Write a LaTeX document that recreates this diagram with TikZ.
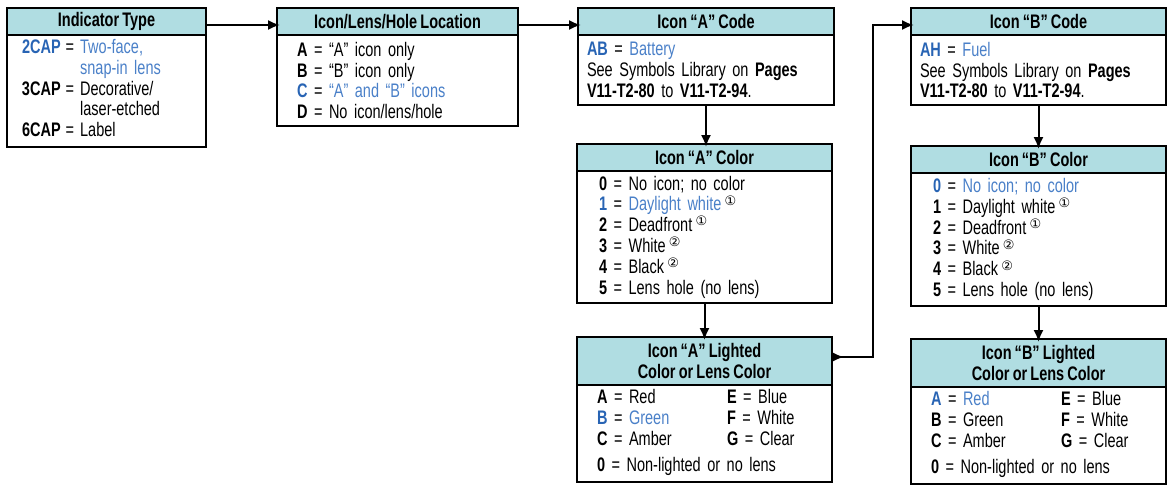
\documentclass[tikz,border=0pt]{standalone}
\usepackage{fontspec}
\setmainfont[FakeStretch=0.74]{Liberation Sans}
\newfontfamily\symfont{DejaVu Sans}
\usetikzlibrary{positioning,arrows.meta}

\definecolor{hdrfill}{RGB}{176,221,226}
\definecolor{keyblue}{RGB}{40,100,180}
\definecolor{txtblue}{RGB}{74,128,200}

\newcommand{\ky}[1]{\textbf{#1}}
\newcommand{\bk}[1]{\textcolor{keyblue}{\textbf{#1}}}
\newcommand{\bt}[1]{\textcolor{txtblue}{#1}}
\newcommand{\cnote}[1]{\,\raisebox{0.55ex}{\symfont\fontsize{6.5}{6.5}\selectfont #1}}
\newcommand{\txtfont}{\fontsize{9.8}{10.4}\selectfont\spaceskip=0.16em plus 0.04em}

\begin{document}
\begin{tikzpicture}[x=0.5pt, y=-0.5pt,
    every node/.style={font=\txtfont, outer sep=0pt},
    hdr/.style={draw, line width=0.75pt, fill=hdrfill, anchor=north west,
      align=center, inner sep=0pt, minimum height=13.5pt,
      font=\txtfont\bfseries},
    bodybox/.style={draw, line width=0.75pt, anchor=north west, align=left,
      inner ysep=0pt},
    link/.style={line width=1pt, shorten >=-1.5pt,
      -{Latex[length=6pt,width=5pt]}}]
  \useasboundingbox (0,0) rectangle (1168,487);

  % Indicator type
  \node[hdr, minimum width=99.5pt] (typeH) at (7,8) {Indicator Type};
  \node[bodybox, minimum height=56pt, inner xsep=7.5pt, text width=84.5pt]
    (typeB) at (typeH.south west) {%
    \begin{tabular}{@{}l@{\hspace{2.5pt}}c@{\hspace{3pt}}l@{}}
      \bk{2CAP} & = & \bt{Two-face,}\\
                &   & \bt{snap-in lens}\\
      \ky{3CAP} & = & Decorative/\\
                &   & laser-etched\\
      \ky{6CAP} & = & Label
    \end{tabular}};

  % Location
  \node[hdr, minimum width=120.5pt] (locH) at (277,8) {Icon/Lens/Hole Location};
  \node[bodybox, minimum height=45.5pt, inner xsep=10pt, text width=100.5pt]
    (locB) at (locH.south west) {%
    \ky{A} = “A” icon only\\
    \ky{B} = “B” icon only\\
    \bk{C} = \bt{“A” and “B” icons}\\
    \ky{D} = No icon/lens/hole};

  % Icon A code
  \node[hdr, minimum width=128pt] (codeAH) at (578,8) {Icon “A” Code};
  \node[bodybox, minimum height=35pt, inner xsep=4.5pt, text width=119pt]
    (codeAB) at (codeAH.south west) {%
    \bk{AB} = \bt{Battery}\\
    See Symbols Library on \ky{Pages}\\
    \ky{V11-T2-80} to \ky{V11-T2-94}.};

  % Icon B code
  \node[hdr, minimum width=127.5pt] (codeBH) at (911,8) {Icon “B” Code};
  \node[bodybox, minimum height=35pt, inner xsep=4.5pt, text width=118.5pt]
    (codeBB) at (codeBH.south west) {%
    \bk{AH} = \bt{Fuel}\\
    See Symbols Library on \ky{Pages}\\
    \ky{V11-T2-80} to \ky{V11-T2-94}.};

  % Icon A color
  \node[hdr, minimum width=127.5pt] (colAH) at (577,144) {Icon “A” Color};
  \node[bodybox, minimum height=66pt, inner xsep=11pt, text width=105.5pt]
    (colAB) at (colAH.south west) {%
    \ky{0} = No icon; no color\\
    \bk{1} = \bt{Daylight white}\cnote{①}\\
    \ky{2} = Deadfront\cnote{①}\\
    \ky{3} = White\cnote{②}\\
    \ky{4} = Black\cnote{②}\\
    \ky{5} = Lens hole (no lens)};

  % Icon B color
  \node[hdr, minimum width=127.5pt] (colBH) at (911,146) {Icon “B” Color};
  \node[bodybox, minimum height=66.5pt, inner xsep=11pt, text width=105.5pt]
    (colBB) at (colBH.south west) {%
    \bk{0} = \bt{No icon; no color}\\
    \ky{1} = Daylight white\cnote{①}\\
    \ky{2} = Deadfront\cnote{①}\\
    \ky{3} = White\cnote{②}\\
    \ky{4} = Black\cnote{②}\\
    \ky{5} = Lens hole (no lens)};

  % Icon A lighted color
  \node[hdr, minimum width=127.5pt, minimum height=24pt] (litAH) at (577,337)
    {Icon “A” Lighted\\Color or Lens Color};
  \node[bodybox, minimum height=48.5pt, inner xsep=10pt, text width=107.5pt]
    (litAB) at (litAH.south west) {%
    \begin{tabular}{@{}p{65pt}@{}l@{}}
      \ky{A} = Red       & \ky{E} = Blue\\
      \bk{B} = \bt{Green} & \ky{F} = White\\
      \ky{C} = Amber     & \ky{G} = Clear\\[3pt]
      \multicolumn{2}{@{}l@{}}{\ky{0} = Non-lighted or no lens}
    \end{tabular}};

  % Icon B lighted color
  \node[hdr, minimum width=127.5pt, minimum height=24pt] (litBH) at (911,339)
    {Icon “B” Lighted\\Color or Lens Color};
  \node[bodybox, minimum height=48.5pt, inner xsep=10pt, text width=107.5pt]
    (litBB) at (litBH.south west) {%
    \begin{tabular}{@{}p{65pt}@{}l@{}}
      \bk{A} = \bt{Red}  & \ky{E} = Blue\\
      \ky{B} = Green     & \ky{F} = White\\
      \ky{C} = Amber     & \ky{G} = Clear\\[3pt]
      \multicolumn{2}{@{}l@{}}{\ky{0} = Non-lighted or no lens}
    \end{tabular}};

  % Connectors
  \draw[link] ([yshift=-1.75pt]typeH.east) -- ([yshift=-1.75pt]typeH.east -| locH.west);
  \draw[link] ([yshift=-1.75pt]locH.east) -- ([yshift=-1.75pt]locH.east -| codeAH.west);
  \draw[link] (codeAB.south) -- (codeAB.south |- colAH.north);
  \draw[link] (colAB.south) -- (colAB.south |- litAH.north);
  \draw[link, {Latex[reversed,length=6pt,width=5pt]}-{Latex[length=6pt,width=5pt]}]
    ([yshift=2pt]litAH.east) -- ++(41,0) |- ([yshift=-1.75pt]codeBH.west);
  \draw[link] (codeBB.south) -- (codeBB.south |- colBH.north);
  \draw[link] (colBB.south) -- (colBB.south |- litBH.north);
\end{tikzpicture}
\end{document}
